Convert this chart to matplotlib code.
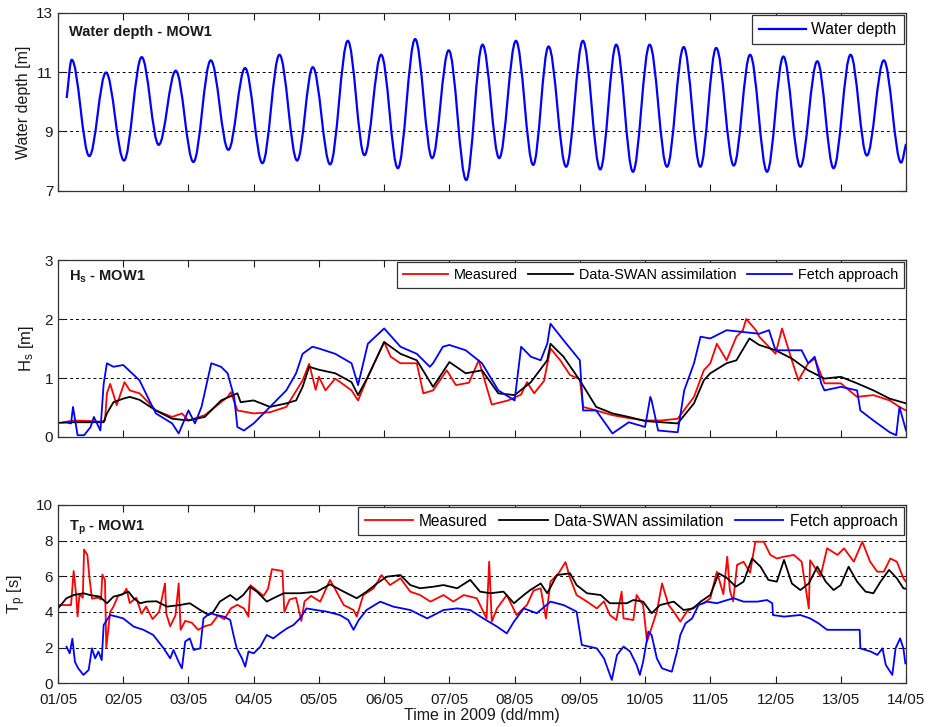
import matplotlib
matplotlib.use('Agg')
import matplotlib.pyplot as plt
from matplotlib.path import Path
from matplotlib.patches import PathPatch
from matplotlib.lines import Line2D

plt.rcParams['font.family'] = ['Liberation Sans', 'DejaVu Sans']
plt.rcParams['mathtext.fontset'] = 'custom'
plt.rcParams['mathtext.rm'] = 'Liberation Sans'
plt.rcParams['mathtext.it'] = 'Liberation Sans:italic'
plt.rcParams['mathtext.bf'] = 'Liberation Sans:bold'

# ---------------- data (time in days since 01/05 00:00) ----------------
day_labels = ['01/05', '02/05', '03/05', '04/05', '05/05', '06/05', '07/05',
              '08/05', '09/05', '10/05', '11/05', '12/05', '13/05', '14/05']

# water depth: start, successive high/low waters, end
depth_t = [0.133, 0.21, 0.48, 0.736, 1.012, 1.283, 1.544, 1.805, 2.076, 2.342,
           2.612, 2.868, 3.134, 3.395, 3.666, 3.906, 4.172, 4.443, 4.698, 4.954,
           5.21, 5.475, 5.736, 5.99, 6.258, 6.508, 6.764, 7.02, 7.285, 7.52,
           7.79, 8.047, 8.313, 8.558, 8.814, 9.07, 9.336, 9.592, 9.847, 10.09,
           10.36, 10.61, 10.87, 11.12, 11.38, 11.64, 11.89, 12.15, 12.40, 12.66,
           12.925, 13.0]
depth_v = [10.13, 11.42, 8.17, 10.99, 8.02, 11.51, 8.55, 11.05, 7.97, 11.40,
           8.38, 11.14, 7.93, 11.59, 8.02, 11.17, 7.89, 12.06, 8.20, 11.59,
           7.76, 12.12, 8.10, 11.74, 7.36, 11.93, 8.10, 12.06, 7.87, 11.87,
           7.81, 12.06, 7.72, 11.93, 7.64, 11.93, 7.81, 11.85, 7.81, 11.82,
           7.85, 11.59, 7.64, 11.53, 7.81, 11.37, 7.76, 11.59, 8.19, 11.40,
           7.95, 8.58]

hs_measured = [(0.08, 0.25), (0.25, 0.28), (0.5, 0.27), (0.65, 0.26), (0.72, 0.28), (0.75, 0.74),
               (0.8, 0.90), (0.9, 0.54), (1.02, 0.93), (1.1, 0.79), (1.25, 0.74), (1.4, 0.57),
               (1.5, 0.45), (1.75, 0.34), (1.9, 0.40), (2.0, 0.28), (2.25, 0.37), (2.5, 0.59),
               (2.6, 0.68), (2.65, 0.76), (2.75, 0.45), (3.0, 0.40), (3.25, 0.42), (3.5, 0.51),
               (3.75, 0.96), (3.85, 1.24), (3.95, 0.80), (4.0, 1.02), (4.1, 0.79), (4.25, 0.99),
               (4.5, 0.79), (4.6, 0.62), (4.75, 1.02), (5.0, 1.61), (5.1, 1.36), (5.25, 1.25),
               (5.5, 1.25), (5.6, 0.74), (5.75, 0.79), (5.96, 1.13), (6.1, 0.88), (6.3, 0.92),
               (6.45, 1.30), (6.65, 0.55), (6.9, 0.62), (7.1, 0.72), (7.19, 0.93), (7.3, 0.74),
               (7.45, 0.95), (7.55, 1.50), (7.7, 1.30), (7.85, 1.05), (8.0, 0.98), (8.05, 0.51),
               (8.25, 0.45), (8.5, 0.37), (8.75, 0.32), (9.0, 0.28), (9.25, 0.28), (9.5, 0.31),
               (9.75, 0.68), (9.9, 1.13), (10.0, 1.25), (10.1, 1.58), (10.25, 1.30), (10.4, 1.70),
               (10.5, 1.81), (10.55, 2.0), (10.7, 1.81), (10.75, 1.70), (11.0, 1.41), (11.1, 1.84),
               (11.25, 1.30), (11.35, 0.96), (11.5, 1.25), (11.6, 1.33), (11.75, 0.91), (12.0, 0.91),
               (12.25, 0.68), (12.5, 0.71), (12.75, 0.62), (12.9, 0.51), (13.0, 0.45)]

hs_swan = [(0.0, 0.24), (0.25, 0.25), (0.5, 0.25), (0.7, 0.25), (0.75, 0.40), (0.85, 0.59),
           (1.0, 0.65), (1.1, 0.68), (1.25, 0.63), (1.5, 0.45), (1.75, 0.31), (2.0, 0.28),
           (2.25, 0.34), (2.5, 0.62), (2.75, 0.74), (2.8, 0.59), (3.0, 0.62), (3.25, 0.51),
           (3.5, 0.57), (3.65, 0.62), (3.75, 0.85), (3.85, 1.19), (4.0, 1.14), (4.25, 1.08),
           (4.5, 0.93), (4.6, 0.71), (4.75, 1.02), (5.0, 1.61), (5.25, 1.41), (5.5, 1.30),
           (5.75, 0.85), (6.0, 1.27), (6.25, 1.08), (6.5, 1.13), (6.75, 0.74), (7.0, 0.71),
           (7.25, 0.93), (7.5, 1.30), (7.55, 1.58), (7.75, 1.36), (8.0, 0.96), (8.25, 0.51),
           (8.5, 0.40), (8.75, 0.34), (9.0, 0.27), (9.25, 0.25), (9.5, 0.23), (9.75, 0.57),
           (9.9, 0.96), (10.0, 1.08), (10.25, 1.25), (10.4, 1.30), (10.6, 1.67), (10.75, 1.56),
           (11.0, 1.47), (11.25, 1.33), (11.5, 1.13), (11.75, 0.99), (12.0, 1.02), (12.25, 0.91),
           (12.5, 0.79), (12.75, 0.65), (13.0, 0.57)]

hs_fetch = [(0.13, 0.25), (0.2, 0.23), (0.23, 0.51), (0.3, 0.03), (0.4, 0.03), (0.5, 0.17),
            (0.55, 0.34), (0.65, 0.11), (0.7, 0.90), (0.75, 1.25), (0.85, 1.19), (1.0, 1.22),
            (1.25, 0.96), (1.4, 0.62), (1.5, 0.40), (1.75, 0.23), (1.85, 0.06), (2.0, 0.45),
            (2.1, 0.23), (2.2, 0.51), (2.35, 1.25), (2.5, 1.19), (2.6, 1.08), (2.7, 0.68),
            (2.75, 0.17), (2.85, 0.11), (3.0, 0.23), (3.25, 0.51), (3.5, 0.79), (3.65, 1.08),
            (3.75, 1.41), (3.9, 1.53), (4.0, 1.50), (4.25, 1.41), (4.5, 1.25), (4.6, 0.88),
            (4.75, 1.58), (5.0, 1.84), (5.25, 1.53), (5.5, 1.41), (5.7, 1.19), (5.75, 1.25),
            (5.9, 1.53), (6.0, 1.56), (6.25, 1.47), (6.5, 1.25), (6.75, 0.79), (7.0, 0.62),
            (7.1, 1.53), (7.25, 1.36), (7.4, 1.30), (7.5, 1.58), (7.55, 1.92), (7.75, 1.64),
            (8.0, 1.30), (8.05, 0.45), (8.25, 0.45), (8.5, 0.06), (8.75, 0.25), (9.0, 0.17),
            (9.08, 0.68), (9.1, 0.62), (9.2, 0.11), (9.5, 0.08), (9.6, 0.79), (9.75, 1.25),
            (9.85, 1.70), (10.0, 1.67), (10.25, 1.81), (10.5, 1.78), (10.75, 1.75), (10.9, 1.81),
            (11.0, 1.47), (11.25, 1.47), (11.4, 1.47), (11.5, 1.25), (11.6, 1.36), (11.7, 0.91),
            (11.75, 0.79), (12.0, 0.85), (12.25, 0.79), (12.3, 0.45), (12.5, 0.28), (12.75, 0.08),
            (12.85, 0.03), (12.9, 0.51), (13.0, 0.11)]

tp_measured = [(0.0, 4.39), (0.2, 4.39), (0.24, 6.3), (0.28, 4.9), (0.30, 3.75), (0.33, 5.0),
               (0.38, 4.8), (0.40, 7.5), (0.45, 7.2), (0.48, 6.0), (0.52, 4.75), (0.62, 4.8),
               (0.66, 4.7), (0.68, 6.1), (0.72, 5.8), (0.74, 2.0), (0.80, 4.0), (0.85, 4.3),
               (0.92, 4.9), (1.0, 5.0), (1.05, 5.3), (1.1, 4.5), (1.2, 4.8), (1.28, 3.9),
               (1.35, 4.3), (1.45, 3.6), (1.55, 4.0), (1.64, 5.6), (1.66, 3.9), (1.72, 3.2),
               (1.8, 3.8), (1.85, 5.6), (1.88, 3.0), (1.95, 3.5), (2.05, 3.4), (2.15, 3.0),
               (2.25, 3.2), (2.35, 3.3), (2.45, 3.8), (2.55, 3.6), (2.65, 4.2), (2.75, 4.4),
               (2.85, 4.2), (2.92, 3.74), (2.95, 5.5), (3.05, 5.2), (3.15, 4.9), (3.22, 5.3),
               (3.28, 6.4), (3.44, 6.3), (3.47, 4.0), (3.55, 4.7), (3.65, 4.8), (3.73, 3.5),
               (3.78, 4.6), (3.88, 4.9), (4.02, 4.58), (4.17, 5.8), (4.27, 5.14), (4.38, 4.39),
               (4.53, 4.11), (4.58, 3.74), (4.68, 4.95), (4.84, 5.33), (4.96, 6.07), (5.09, 5.51),
               (5.25, 5.89), (5.40, 5.14), (5.55, 4.95), (5.71, 4.58), (5.91, 4.95), (6.06, 4.58),
               (6.22, 4.95), (6.42, 4.77), (6.57, 3.64), (6.61, 6.82), (6.65, 3.46), (6.73, 4.2),
               (6.88, 4.95), (7.03, 3.83), (7.19, 4.4), (7.29, 5.2), (7.40, 5.33), (7.48, 3.64),
               (7.55, 5.7), (7.68, 6.2), (7.78, 6.8), (7.85, 5.9), (7.95, 4.95), (8.11, 4.58),
               (8.26, 4.2), (8.37, 4.6), (8.46, 3.83), (8.56, 3.55), (8.64, 5.14), (8.67, 3.64),
               (8.82, 3.55), (8.87, 4.95), (8.97, 4.39), (9.03, 2.34), (9.08, 2.9), (9.18, 4.02),
               (9.26, 5.6), (9.36, 4.39), (9.44, 4.02), (9.54, 3.46), (9.64, 4.02), (9.80, 4.39),
               (9.90, 4.49), (10.0, 4.77), (10.1, 6.26), (10.2, 5.0), (10.26, 7.1), (10.3, 5.2),
               (10.35, 4.6), (10.41, 6.64), (10.51, 6.82), (10.61, 6.2), (10.69, 7.94), (10.82, 7.94),
               (10.92, 7.2), (11.02, 7.0), (11.13, 7.1), (11.28, 7.2), (11.40, 6.82), (11.51, 4.2),
               (11.53, 6.9), (11.69, 6.0), (11.79, 7.57), (11.95, 7.2), (12.05, 7.57), (12.2, 6.82),
               (12.33, 7.94), (12.45, 6.82), (12.56, 6.26), (12.66, 6.26), (12.76, 7.0), (12.86, 6.82),
               (12.96, 5.89), (13.0, 5.7)]

tp_swan = [(0.0, 4.2), (0.13, 4.77), (0.24, 4.95), (0.39, 5.05), (0.49, 4.95), (0.64, 4.86),
           (0.75, 4.49), (0.85, 4.86), (0.95, 4.95), (1.08, 5.14), (1.16, 4.77), (1.26, 4.49),
           (1.36, 4.58), (1.51, 4.6), (1.67, 4.3), (1.87, 4.39), (2.02, 4.49), (2.18, 4.11),
           (2.31, 3.83), (2.38, 4.0), (2.48, 4.58), (2.64, 4.95), (2.74, 4.67), (2.84, 4.95),
           (2.94, 5.42), (3.05, 5.14), (3.20, 4.58), (3.30, 4.77), (3.46, 5.05), (3.71, 5.05),
           (3.97, 5.14), (4.17, 5.55), (4.38, 5.14), (4.58, 4.77), (4.73, 5.14), (4.89, 5.6),
           (5.04, 5.98), (5.25, 6.07), (5.40, 5.51), (5.55, 5.33), (5.76, 5.42), (5.91, 5.51),
           (6.12, 5.33), (6.32, 5.8), (6.47, 5.14), (6.63, 5.05), (6.83, 5.14), (6.99, 4.49),
           (7.14, 4.95), (7.24, 5.23), (7.40, 5.6), (7.50, 5.05), (7.65, 6.07), (7.85, 6.17),
           (7.95, 5.51), (8.11, 5.05), (8.32, 4.95), (8.46, 4.49), (8.72, 4.49), (8.82, 4.67),
           (8.97, 4.58), (9.10, 3.93), (9.23, 4.39), (9.44, 4.58), (9.59, 4.11), (9.74, 4.2),
           (9.85, 4.58), (10.0, 4.95), (10.13, 6.17), (10.26, 5.89), (10.39, 5.42), (10.51, 5.7),
           (10.64, 7.0), (10.77, 6.54), (10.89, 5.8), (11.02, 5.7), (11.13, 6.92), (11.25, 5.6),
           (11.38, 5.23), (11.51, 5.6), (11.64, 6.54), (11.77, 5.7), (11.89, 5.23), (12.0, 5.51),
           (12.12, 6.54), (12.25, 5.7), (12.38, 5.14), (12.5, 5.05), (12.61, 5.7), (12.74, 6.36),
           (12.86, 5.89), (12.96, 5.33), (13.0, 5.3)]

tp_fetch = [(0.13, 2.05), (0.18, 1.68), (0.22, 2.5), (0.26, 1.2), (0.31, 0.84), (0.39, 0.47),
            (0.47, 0.75), (0.52, 1.96), (0.57, 1.4), (0.62, 1.78), (0.67, 1.3), (0.70, 3.27),
            (0.75, 3.55), (0.80, 3.83), (0.90, 3.74), (1.0, 3.64), (1.16, 3.18), (1.31, 3.0),
            (1.46, 2.71), (1.62, 1.96), (1.72, 1.4), (1.77, 1.87), (1.85, 1.2), (1.90, 0.84),
            (1.95, 2.34), (2.02, 2.52), (2.08, 1.87), (2.18, 1.96), (2.23, 3.64), (2.33, 3.93),
            (2.43, 3.83), (2.54, 3.74), (2.64, 3.55), (2.69, 2.71), (2.74, 1.96), (2.82, 1.4),
            (2.87, 0.93), (2.92, 1.78), (3.0, 1.68), (3.10, 2.05), (3.20, 2.71), (3.30, 2.52),
            (3.40, 2.8), (3.51, 3.08), (3.61, 3.27), (3.71, 3.64), (3.81, 4.2), (3.97, 4.1),
            (4.12, 4.02), (4.32, 3.83), (4.45, 3.55), (4.53, 3.0), (4.61, 3.55), (4.73, 4.11),
            (4.94, 4.58), (5.14, 4.3), (5.40, 4.11), (5.66, 3.64), (5.91, 4.11), (6.12, 4.2),
            (6.32, 4.11), (6.52, 3.64), (6.73, 3.18), (6.88, 2.8), (6.99, 3.46), (7.14, 4.2),
            (7.34, 3.93), (7.55, 4.58), (7.75, 4.39), (7.95, 4.02), (8.03, 2.15), (8.26, 1.96),
            (8.37, 1.4), (8.49, 0.19), (8.57, 1.59), (8.67, 2.06), (8.77, 1.78), (8.87, 1.03),
            (8.92, 0.47), (8.97, 1.21), (9.05, 2.9), (9.10, 2.71), (9.18, 1.4), (9.26, 0.84),
            (9.33, 0.75), (9.41, 0.65), (9.49, 1.78), (9.54, 2.71), (9.62, 3.36), (9.72, 3.64),
            (9.82, 4.39), (9.95, 4.58), (10.1, 4.49), (10.26, 4.67), (10.36, 4.77), (10.51, 4.58),
            (10.72, 4.58), (10.87, 4.67), (10.95, 4.49), (10.96, 3.83), (11.13, 3.74), (11.38, 3.83),
            (11.53, 3.64), (11.66, 3.36), (11.79, 3.0), (11.95, 3.0), (12.16, 3.0), (12.29, 3.0),
            (12.30, 1.96), (12.46, 1.78), (12.56, 1.59), (12.64, 1.96), (12.69, 1.03), (12.79, 0.47),
            (12.84, 1.96), (12.91, 2.52), (12.96, 1.96), (12.99, 1.12)]


def unzip(pairs):
    return [p[0] for p in pairs], [p[1] for p in pairs]


def tide_path(t, v, k=0.36):
    verts = [(t[0], v[0])]
    codes = [Path.MOVETO]
    n = len(t)
    for i in range(n - 1):
        dt = t[i + 1] - t[i]
        dv = v[i + 1] - v[i]
        c1 = (t[i] + k * dt, v[i]) if i > 0 else (t[i] + k * dt, v[i] + k * dv)
        c2 = (t[i + 1] - k * dt, v[i + 1]) if i + 1 < n - 1 else (t[i + 1] - k * dt, v[i + 1] - k * dv)
        verts += [c1, c2, (t[i + 1], v[i + 1])]
        codes += [Path.CURVE4] * 3
    return Path(verts, codes)


TXT = '#1a1a1a'


def style(ax, ylim, yticks, xlabels):
    ax.set_xlim(0, 13)
    ax.set_ylim(*ylim)
    ax.set_xticks(range(14))
    ax.set_yticks(yticks)
    if xlabels:
        ax.set_xticklabels(day_labels)
    else:
        ax.set_xticklabels([])
    ax.tick_params(direction='in', top=True, right=True, length=5, width=0.8,
                   labelsize=11, colors=TXT)
    ax.tick_params(axis='y', pad=3.5)
    ax.tick_params(axis='x', pad=7)
    ax.yaxis.grid(True, linestyle=(0, (3, 3)), color='k', lw=0.7)
    ax.set_axisbelow(True)
    for s in ax.spines.values():
        s.set_linewidth(0.9)
        s.set_color('#333333')


fig = plt.figure(figsize=(9.31, 7.27), dpi=100)
L, W = 58 / 931, 848 / 931
ax1 = fig.add_axes([L, 1 - 190.7 / 727, W, 177.7 / 727])
ax2 = fig.add_axes([L, 1 - 437.0 / 727, W, 177.0 / 727])
ax3 = fig.add_axes([L, 1 - 683.3 / 727, W, 178.3 / 727])

# panel 1: water depth
style(ax1, (7, 13), [7, 9, 11, 13], False)
ax1.add_patch(PathPatch(tide_path(depth_t, depth_v), fill=False, ec='#0000ff', lw=1.6))
ax1.set_ylabel('Water depth [m]', fontsize=11.5, color=TXT, labelpad=4)
ax1.text(0.013, 0.872, 'Water depth - MOW1', transform=ax1.transAxes,
         fontsize=10.5, fontweight='bold', color=TXT, va='baseline')
lg = ax1.legend([Line2D([], [], color='#0000ff', lw=1.6)], ['Water depth'],
                loc='upper right', fontsize=11.3, fancybox=False, framealpha=1,
                edgecolor='#333333', borderpad=0.45, handlelength=3.0,
                handletextpad=0.35, borderaxespad=0.15)
lg.get_frame().set_linewidth(0.9)

# panel 2: Hs
style(ax2, (0, 3), [0, 1, 2, 3], False)
for pairs, col, lab in [(hs_measured, '#ff0000', 'Measured'),
                        (hs_swan, 'k', 'Data-SWAN assimilation'),
                        (hs_fetch, '#0000ff', 'Fetch approach')]:
    t, v = unzip(pairs)
    ax2.plot(t, v, color=col, lw=1.3, label=lab)
ax2.set_ylabel(r'H$_\mathrm{s}$ [m]', fontsize=12, color=TXT, labelpad=6)
ax2.text(0.013, 0.885, r'H$_\mathbf{s}$ - MOW1', transform=ax2.transAxes,
         fontsize=10.5, fontweight='bold', color=TXT, va='baseline')
lg = ax2.legend(loc='upper right', ncol=3, fontsize=10.4, fancybox=False, framealpha=1,
                edgecolor='#333333', borderpad=0.4, handlelength=3.1,
                handletextpad=0.4, columnspacing=0.75, borderaxespad=0.15)
lg.get_frame().set_linewidth(0.9)

# panel 3: Tp
style(ax3, (0, 10), [0, 2, 4, 6, 8, 10], True)
for pairs, col, lab in [(tp_measured, '#ff0000', 'Measured'),
                        (tp_swan, 'k', 'Data-SWAN assimilation'),
                        (tp_fetch, '#0000ff', 'Fetch approach')]:
    t, v = unzip(pairs)
    ax3.plot(t, v, color=col, lw=1.3, label=lab)
ax3.set_ylabel(r'T$_\mathrm{p}$ [s]', fontsize=12, color=TXT, labelpad=6)
ax3.set_xlabel('Time in 2009 (dd/mm)', fontsize=11.5, color=TXT, labelpad=1)
ax3.text(0.013, 0.855, r'T$_\mathbf{p}$ - MOW1', transform=ax3.transAxes,
         fontsize=10.5, fontweight='bold', color=TXT, va='baseline')
lg = ax3.legend(loc='upper right', ncol=3, fontsize=11.2, fancybox=False, framealpha=1,
                edgecolor='#333333', borderpad=0.4, handlelength=3.1,
                handletextpad=0.4, columnspacing=0.75, borderaxespad=0.15)
lg.get_frame().set_linewidth(0.9)

fig.savefig('out.png', dpi=100)
